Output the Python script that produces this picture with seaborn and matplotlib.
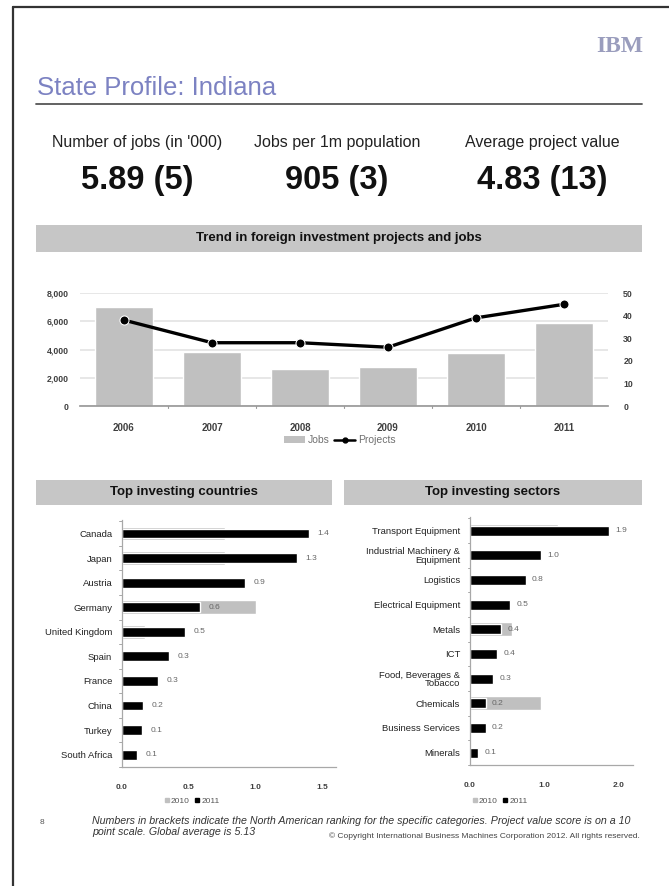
import numpy as np
import pandas as pd
import matplotlib
matplotlib.use("Agg")
import matplotlib.pyplot as plt
from matplotlib.patches import Rectangle, Patch
from matplotlib.lines import Line2D
import seaborn as sns

# ---- data -------------------------------------------------------------
years = ["2006", "2007", "2008", "2009", "2010", "2011"]
jobs = [7000, 3800, 2600, 2750, 3750, 5890]
projects = [38, 28, 28, 26, 39, 45]

countries = ["Canada", "Japan", "Austria", "Germany", "United Kingdom",
             "Spain", "France", "China", "Turkey", "South Africa"]
countries_2010 = [0.77, 0.77, 0.0, 1.0, 0.17, 0.0, 0.0, 0.0, 0.0, 0.0]
countries_2011 = [1.40, 1.31, 0.92, 0.58, 0.47, 0.35, 0.27, 0.16, 0.15, 0.11]

sectors = ["Transport Equipment", "Industrial Machinery &\nEquipment", "Logistics",
           "Electrical Equipment", "Metals", "ICT", "Food, Beverages &\nTobacco",
           "Chemicals", "Business Services", "Minerals"]
sectors_2010 = [1.19, 0.0, 0.0, 0.0, 0.57, 0.0, 0.0, 0.96, 0.0, 0.0]
sectors_2011 = [1.88, 0.96, 0.75, 0.54, 0.42, 0.36, 0.31, 0.21, 0.21, 0.11]

kpi_labels = ["Number of jobs (in '000)", "Jobs per 1m population", "Average project value"]
kpi_values = ["5.89 (5)", "905 (3)", "4.83 (13)"]

# ---- page setup ---------------------------------------------------------
W, H = 669, 886
sns.set_theme(style="white")
plt.rcParams["font.family"] = ["Liberation Sans", "DejaVu Sans"]

fig = plt.figure(figsize=(W / 100, H / 100), dpi=100)
fig.patch.set_facecolor("white")


def fx(x):
    return x / W


def fy(y):
    return 1 - y / H


def add_axes_px(left, top, right, bottom):
    return fig.add_axes([fx(left), fy(bottom), (right - left) / W, (bottom - top) / H])


GRAY_BAR = "#c0c0c0"
BANNER = "#c6c6c6"
TXT = "#404040"

# page frame (left and top edges)
fig.add_artist(Line2D([fx(13), fx(13)], [fy(7), fy(886)], color="#333333", lw=1.6))
fig.add_artist(Line2D([fx(13), fx(669)], [fy(7), fy(7)], color="#333333", lw=1.6))

# header
fig.text(fx(643), fy(46), "IBM", ha="right", va="center", fontsize=17,
         fontweight="bold", color="#9a9dbd", family=["Liberation Serif", "DejaVu Serif"])
fig.text(fx(37), fy(88), "State Profile: Indiana", ha="left", va="center",
         fontsize=18.5, color="#7c82c2")
fig.add_artist(Line2D([fx(36), fx(642)], [fy(104), fy(104)], color="#555555", lw=1.3))

# KPI block
for cx, lab, val in zip([137, 337, 542], kpi_labels, kpi_values):
    fig.text(fx(cx), fy(143), lab, ha="center", va="center", fontsize=11.5, color="#222222")
    fig.text(fx(cx), fy(181), val, ha="center", va="center", fontsize=23.5,
             fontweight="bold", color="#111111")


def banner(left, top, right, bottom, text, size):
    fig.add_artist(Rectangle((fx(left), fy(bottom)), (right - left) / W, (bottom - top) / H,
                             transform=fig.transFigure, facecolor=BANNER, edgecolor="none"))
    fig.text(fx((left + right) / 2), fy((top + bottom) / 2), text, ha="center",
             va="center", fontsize=size, fontweight="bold", color="#111111")


banner(36, 225, 642, 252, "Trend in foreign investment projects and jobs", 9.5)
banner(36, 480, 332, 505, "Top investing countries", 9.5)
banner(344, 480, 642, 505, "Top investing sectors", 9.5)

# ---- trend chart --------------------------------------------------------
ax = add_axes_px(80, 293, 608, 406)
sns.barplot(x=years, y=jobs, color=GRAY_BAR, saturation=1, width=0.66, ax=ax)
ax.set_ylim(0, 8000)
ax.set_xlim(-0.5, 5.5)
ax.set_yticks([0, 2000, 4000, 6000, 8000])
ax.set_yticklabels(["0", "2,000", "4,000", "6,000", "8,000"])
ax.yaxis.grid(True, color="#e3e3e3", lw=1.2)
ax.set_axisbelow(True)
for s in ["top", "right", "left"]:
    ax.spines[s].set_visible(False)
ax.spines["bottom"].set_color("#9a9a9a")
ax.tick_params(axis="y", length=0, labelsize=6.3, colors=TXT, pad=8)
ax.tick_params(axis="x", length=0, labelsize=7, colors=TXT, pad=12)
for lbl in ax.get_xticklabels() + ax.get_yticklabels():
    lbl.set_fontweight("bold")
for b in np.arange(0.5, 5.0, 1.0):
    ax.plot([b, b], [0, -110], color="#9a9a9a", lw=0.8, clip_on=False)
ax.set_xlabel("")
ax.set_ylabel("")

ax2 = ax.twinx()
sns.lineplot(x=np.arange(len(years)), y=projects, ax=ax2, color="black",
             marker="o", markersize=6.5, linewidth=2.4)
ax2.set_ylim(0, 50)
ax2.set_xlim(-0.5, 5.5)
ax2.set_yticks([0, 10, 20, 30, 40, 50])
for s in ["top", "right", "left", "bottom"]:
    ax2.spines[s].set_visible(False)
ax2.tick_params(axis="y", length=0, labelsize=6.3, colors=TXT, pad=11)
for lbl in ax2.get_yticklabels():
    lbl.set_fontweight("bold")
ax2.set_ylabel("")

handles = [Patch(facecolor=GRAY_BAR, edgecolor="none"),
           Line2D([], [], color="black", marker="o", markersize=3.5, lw=1.8)]
leg = fig.legend(handles, ["Jobs", "Projects"], loc="center",
                 bbox_to_anchor=(fx(340), fy(440)), ncol=2, frameon=False,
                 fontsize=7.5, handlelength=2.0, handleheight=0.6,
                 columnspacing=0.4, handletextpad=0.3)
for t in leg.get_texts():
    t.set_color("#707070")


# ---- horizontal bar charts ---------------------------------------------
def hbar(axh, names, v2010, v2011, xmax, ticks):
    df = pd.DataFrame({"name": names, "y2010": v2010, "y2011": v2011})
    sns.barplot(data=df, x="y2010", y="name", color=GRAY_BAR, saturation=1,
                width=0.56, orient="h", ax=axh)
    sns.barplot(data=df, x="y2011", y="name", color="black", saturation=1,
                width=0.4, orient="h", ax=axh)
    axh.set_xlim(0, xmax)
    axh.set_ylim(9.5, -0.55)
    axh.set_xticks(ticks)
    axh.set_xticklabels([f"{t:.1f}" for t in ticks])
    for s in ["top", "right"]:
        axh.spines[s].set_visible(False)
    for s in ["left", "bottom"]:
        axh.spines[s].set_color("#a8a8a8")
        axh.spines[s].set_linewidth(0.9)
    axh.tick_params(axis="y", length=0, labelsize=6.8, colors="#222222", pad=7)
    axh.tick_params(axis="x", direction="inout", length=4, width=0.7, color="#a8a8a8",
                    labelsize=6, colors=TXT, pad=10)
    for lbl in axh.get_xticklabels():
        lbl.set_fontweight("bold")
        lbl.set_color(TXT)
    for lbl in axh.get_yticklabels():
        lbl.set_linespacing(0.95)
    for i in range(len(names) + 1):
        axh.plot([0, -0.012 * xmax], [i - 0.5, i - 0.5], color="#a8a8a8", lw=0.7,
                 clip_on=False)
    for i, v in enumerate(v2011):
        axh.text(v + 0.04 * xmax, i, f"{v:.1f}", ha="left", va="center",
                 fontsize=6, color="#666666")
    axh.set_xlabel("")
    axh.set_ylabel("")


axl = add_axes_px(122, 520, 336, 767)
hbar(axl, countries, countries_2010, countries_2011, 1.6, [0.0, 0.5, 1.0, 1.5])

axr = add_axes_px(470, 517, 633, 765)
hbar(axr, sectors, sectors_2010, sectors_2011, 2.2, [0.0, 1.0, 2.0])

for cx in [192, 500]:
    lg = fig.legend([Line2D([], [], ls="", marker="s", markersize=3, color=GRAY_BAR),
                     Line2D([], [], ls="", marker="s", markersize=3, color="black")],
                    ["2010", "2011"], loc="center", bbox_to_anchor=(fx(cx), fy(801)),
                    ncol=2, frameon=False, fontsize=6, handlelength=0.6,
                    columnspacing=0.6, handletextpad=0.2)
    for t in lg.get_texts():
        t.set_color("#555555")

# ---- footer ---------------------------------------------------------------
fig.text(fx(40), fy(823), "8", ha="left", va="center", fontsize=6, color="#555555")
fig.text(fx(92), fy(821),
         "Numbers in brackets indicate the North American ranking for the specific categories. "
         "Project value score is on a 10", ha="left", va="center", fontsize=7.7,
         style="italic", color="#333333")
fig.text(fx(92), fy(832), "point scale. Global average is 5.13", ha="left",
         va="center", fontsize=7.7, style="italic", color="#333333")
fig.text(fx(640), fy(836),
         "\u00a9 Copyright International Business Machines Corporation 2012. All rights reserved.",
         ha="right", va="center", fontsize=6, color="#444444")

fig.savefig("out.png", dpi=100, facecolor="white")
